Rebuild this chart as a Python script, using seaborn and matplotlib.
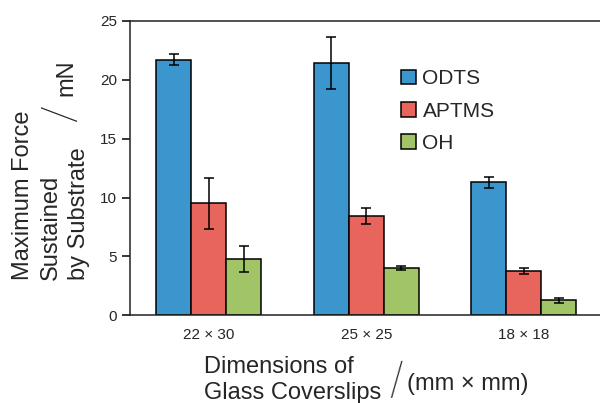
import numpy as np
import pandas as pd
import matplotlib
matplotlib.use("Agg")
import matplotlib.pyplot as plt
import seaborn as sns

sizes = ["22 × 30", "25 × 25", "18 × 18"]
coatings = ["ODTS", "APTMS", "OH"]
odts = [21.7, 21.45, 11.3]
aptms = [9.5, 8.4, 3.78]
oh = [4.8, 4.02, 1.26]
odts_err = [0.47, 2.2, 0.47]
aptms_err = [2.2, 0.68, 0.24]
oh_err = [1.1, 0.2, 0.22]
colors = ["#3a96cd", "#e8655e", "#a1c566"]
ylabel_lines = ["Maximum Force", "Sustained", "by Substrate"]

rows = []
for name, vals, errs in zip(coatings, [odts, aptms, oh], [odts_err, aptms_err, oh_err]):
    for s, v, e in zip(sizes, vals, errs):
        rows.append({"size": s, "coating": name, "force": v, "err": e})
df = pd.DataFrame(rows)

sns.set_style("white")
plt.rcParams["font.family"] = ["Liberation Sans", "DejaVu Sans"]

fig = plt.figure(figsize=(6, 4.03), dpi=100)
ax = fig.add_axes([130 / 600, 87.7 / 403, 472.5 / 600, 294.3 / 403])

sns.barplot(
    data=df, x="size", y="force", hue="coating",
    order=sizes, hue_order=coatings, palette=colors,
    width=0.667, errorbar=None, edgecolor="black", linewidth=1.1,
    saturation=1, ax=ax
)

# error bars on top of each bar
for cont, name in zip(ax.containers, coatings):
    sub = df[df["coating"] == name].set_index("size").loc[sizes]
    xs = [p.get_x() + p.get_width() / 2 for p in cont.patches]
    ax.errorbar(xs, sub["force"].values, yerr=sub["err"].values, fmt="none",
                ecolor="black", elinewidth=1.1, capsize=3.3, capthick=1.1)

ax.set_xlim(-0.5, 2.5)
ax.set_ylim(0, 25)
ax.set_yticks([0, 5, 10, 15, 20, 25])
ax.set_xticks([0, 1, 2])
ax.set_xticklabels(sizes)
ax.set_xticks([-0.5, 0.5, 1.5, 2.5], minor=True)
ax.tick_params(axis="x", which="major", length=0, pad=9, labelsize=11)
ax.tick_params(axis="x", which="minor", length=5.5, width=1.1, color="black", direction="out")
ax.tick_params(axis="y", length=5.8, width=1.1, color="black", pad=3.5, labelsize=11, left=True)
ax.set_xlabel("")
ax.set_ylabel("")
for side in ["left", "bottom", "top", "right"]:
    ax.spines[side].set_visible(True)
    ax.spines[side].set_color("#222222")
    ax.spines[side].set_linewidth(1.1)

ax.legend(
    loc="upper left", bbox_to_anchor=(0.574, 0.836), frameon=False,
    fontsize=15, handlelength=0.72, handleheight=0.72, handletextpad=0.3,
    labelspacing=0.64, borderpad=0, borderaxespad=0
)

# axis titles, y label one line at a time
for i, line in enumerate(ylabel_lines):
    fig.text((23 + 28 * i) / 600, 1 - 280 / 403, line, rotation=90,
             ha="center", va="bottom", fontsize=17)

slash = dict(family=["Roboto", "Liberation Sans"], fontweight="light", fontsize=33)
fig.text(61.5 / 600, 1 - 113 / 403, "/", rotation=90, ha="center", va="center", **slash)
fig.text(66 / 600, 1 - 96 / 403, "mN", rotation=90, ha="center", va="bottom",
         fontsize=17)

fig.text(204 / 600, 1 - 356 / 403, "Dimensions of\nGlass Coverslips",
         ha="left", va="top", fontsize=17, linespacing=1.24)
fig.text(396 / 600, 1 - 381.5 / 403, "/", rotation=5, ha="center", va="center", **slash)
fig.text(407 / 600, 1 - 384 / 403, "(mm × mm)", ha="left", va="center", fontsize=17)

fig.savefig("out.png", dpi=100)
